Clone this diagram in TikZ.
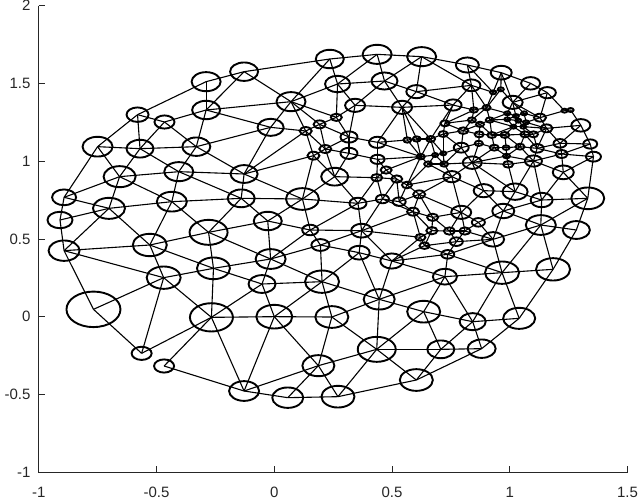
\documentclass[tikz,border=0pt]{standalone}
\usepackage{fontspec}
\setmainfont{Liberation Sans}
\usetikzlibrary{shapes.geometric}
\pgfdeclarelayer{bg}
\pgfsetlayers{bg,main}
\definecolor{axc}{RGB}{38,38,38}
\newcommand\mk[4]{\node[vx=#4] (#1) at (#2,#3) {};}
\tikzset{
 vx/.style={ellipse,draw=black,line width=1.9pt,inner sep=0pt,outer sep=0pt,minimum width={#1pt},minimum height={#1pt/1.52}},
 ed/.style={line width=1.1pt,black},
 ax/.style={line width=0.7pt,axc},
 tl/.style={font=\fontsize{15}{15}\selectfont,text=axc,inner sep=0pt}
}
\begin{document}
\begin{tikzpicture}[x=0.408163pt,y=-0.333333pt]
\useasboundingbox (0,0) rectangle (1568,1506);
% boundary
\mk{a1}{229}{928}{54}\mk{a2}{157}{752}{31}\mk{a3}{147}{660}{25}\mk{a4}{157}{592}{24}
\mk{a5}{239}{440}{30}\mk{a6}{337}{344}{22}\mk{a7}{505}{245}{29}\mk{a8}{598}{215}{28}
\mk{a9}{808}{177}{28}\mk{a10}{924}{163}{29}\mk{a11}{1033}{170}{29}\mk{a12}{1145}{195}{23}
\mk{a13}{1228}{218}{21}\mk{a14}{1300}{250}{19}\mk{a15}{1341}{278}{17}\mk{a16}{1383}{332}{6}
\mk{a17}{1398}{330}{6}\mk{a18}{1423}{376}{19}\mk{a19}{1446}{432}{14}\mk{a20}{1454}{470}{15}
\mk{a21}{1440}{595}{33}\mk{a22}{1412}{690}{27}\mk{a23}{1355}{808}{34}\mk{a24}{1272}{955}{32}
\mk{a25}{1180}{1046}{28}\mk{a26}{1020}{1140}{33}\mk{a27}{828}{1190}{33}\mk{a28}{705}{1193}{31}
\mk{a29}{598}{1173}{30}\mk{a30}{402}{1098}{20}\mk{a31}{347}{1060}{20}
% interior large
\mk{b1}{293}{530}{32}\mk{b2}{343}{446}{27}\mk{b3}{481}{440}{28}\mk{b4}{403}{366}{20}
\mk{b5}{505}{330}{28}\mk{b6}{663}{382}{26}\mk{b7}{713}{305}{29}\mk{b8}{827}{252}{25}
\mk{b9}{942}{243}{26}\mk{b10}{438}{515}{29}\mk{b11}{598}{522}{27}\mk{b12}{820}{530}{27}
\mk{b13}{267}{625}{32}\mk{b14}{421}{605}{30}\mk{b15}{591}{595}{27}\mk{b16}{741}{597}{33}
\mk{b17}{656}{663}{28}\mk{b18}{511}{697}{38}\mk{b19}{367}{735}{34}\mk{b20}{401}{833}{34}
\mk{b21}{523}{805}{33}\mk{b22}{663}{777}{30}\mk{b23}{642}{852}{27}\mk{b24}{789}{845}{34}
\mk{b25}{785}{735}{18}\mk{b26}{760}{690}{16}\mk{b27}{886}{692}{21}\mk{b28}{877}{610}{17}
\mk{b29}{880}{758}{21}\mk{b30}{960}{783}{23}\mk{b31}{929}{898}{31}\mk{b32}{1038}{935}{33}
\mk{b33}{1158}{965}{26}\mk{b34}{1080}{1048}{27}\mk{b35}{923}{1048}{38}\mk{b36}{813}{951}{33}
\mk{b37}{672}{950}{36}\mk{b38}{518}{952}{43}\mk{b39}{780}{1097}{32}\mk{b40}{1090}{830}{24}
\mk{b41}{1230}{818}{34}\mk{b42}{1097}{763}{13}\mk{b43}{1208}{718}{22}\mk{b44}{1325}{675}{30}
\mk{b45}{1327}{600}{22}\mk{b46}{1262}{575}{25}\mk{b47}{1233}{633}{22}\mk{b48}{1185}{572}{20}
\mk{b49}{1130}{637}{20}\mk{b50}{1172}{667}{13}\mk{b51}{1380}{517}{21}\mk{b52}{1107}{530}{17}
\mk{b53}{1157}{488}{19}\mk{b54}{1130}{443}{15}\mk{b55}{855}{411}{17}\mk{b56}{925}{427}{17}
\mk{b57}{870}{316}{20}\mk{b58}{985}{322}{20}\mk{b59}{1020}{275}{20}\mk{b60}{1110}{315}{17}
\mk{b61}{1155}{256}{18}\mk{b62}{1256}{307}{20}\mk{b63}{855}{460}{17}\mk{b64}{925}{478}{14}
% small
\mk{c1}{824}{352}{11}\mk{c2}{783}{373}{12}\mk{c3}{749}{393}{12}\mk{c4}{797}{447}{12}
\mk{c5}{768}{467}{12}\mk{c6}{946}{510}{11}\mk{c7}{923}{533}{11}\mk{c8}{972}{537}{11}
\mk{c9}{997}{555}{10}\mk{c10}{1027}{583}{12}\mk{c11}{937}{597}{13}\mk{c12}{978}{605}{13}
\mk{c13}{1012}{635}{12}\mk{c14}{1060}{652}{11}\mk{c15}{1058}{692}{11}\mk{c16}{1101}{693}{11}
\mk{c17}{1139}{693}{11}\mk{c18}{1030}{712}{10}\mk{c19}{1040}{737}{10}\mk{c20}{1118}{725}{13}
\mk{c21}{998}{420}{8}\mk{c22}{1021}{417}{8}\mk{c23}{1055}{417}{9}\mk{c24}{1031}{470}{8}
\mk{c25}{1066}{465}{6}\mk{c26}{1086}{460}{6}\mk{c28}{1049}{492}{8}\mk{c29}{1088}{492}{8}
\mk{c30}{1090}{370}{9}\mk{c31}{1086}{402}{9}\mk{c32}{1135}{392}{10}\mk{c33}{1161}{330}{8}
\mk{c34}{1192}{323}{8}\mk{c35}{1208}{277}{6}\mk{c36}{1227}{268}{6}\mk{c37}{1156}{360}{8}
\mk{c38}{1176}{373}{8}\mk{c39}{1200}{360}{8}\mk{c40}{1174}{403}{9}\mk{c41}{1205}{405}{9}
\mk{c42}{1237}{405}{9}\mk{c43}{1173}{430}{8}\mk{c44}{1211}{443}{9}\mk{c45}{1240}{443}{7}
\mk{c46}{1243}{340}{6}\mk{c47}{1264}{348}{6}\mk{c48}{1284}{340}{6}\mk{c49}{1243}{358}{6}
\mk{c50}{1270}{362}{6}\mk{c51}{1289}{367}{6}\mk{c52}{1323}{353}{12}\mk{c53}{1258}{380}{6}
\mk{c54}{1282}{380}{6}\mk{c55}{1339}{385}{12}\mk{c56}{1286}{403}{9}\mk{c57}{1307}{403}{9}
\mk{c58}{1372}{430}{13}\mk{c59}{1274}{440}{9}\mk{c60}{1316}{445}{13}\mk{c61}{1376}{462}{12}
\mk{c62}{1241}{468}{7}\mk{c63}{1307}{483}{17}\mk{c64}{1245}{493}{10}
\begin{pgfonlayer}{bg}
\foreach \u/\v in {a1/a2,a2/a3,a3/a4,a4/a5,a5/a6,a6/a7,a7/a8,a8/a9,a9/a10,a10/a11,a11/a12,a12/a13,a13/a14,a14/a15,a15/a16,a16/a17,a17/a18,a18/a19,a19/a20,a20/a21,a21/a22,a22/a23,a23/a24,a24/a25,a25/a26,a26/a27,a27/a28,a28/a29,a29/a30,a31/a1,
a1/b20,a31/b20,a31/b38,a30/b38,a29/b38,a29/b37,a29/b39,a28/b39,a27/b39,a27/b35,a26/b35,a26/b34,a25/b34,a25/b33,a24/b33,a24/b41,a23/b41,a23/b44,a22/b44,a21/b45,a21/b51,a21/b44,a20/b51,a20/c61,a19/c61,a19/c58,a18/c58,a18/c55,a16/c52,a15/c52,a15/b62,a14/b62,a13/b62,a13/c36,a13/c35,a12/c35,a12/b61,a11/b61,a11/b59,a11/b9,a10/b9,a10/b8,a9/b8,a9/b7,a8/b7,a8/b5,a7/b5,a6/b4,a6/b2,a5/b2,a5/b1,a4/b1,a4/b13,a3/b13,a2/b13,a2/b19,a2/b20,
b1/b2,b1/b10,b1/b13,b1/b14,b2/b4,b2/b3,b2/b10,b3/b4,b3/b5,b3/b6,b3/b10,b3/b11,b4/b5,b5/b6,b5/b7,b6/b7,b6/b11,b6/c3,b7/b8,b7/c1,b7/c2,b7/c3,b8/b9,b8/b57,b8/c1,b9/b57,b9/b58,b9/b59,b57/b58,b57/c1,b57/b55,b58/b59,b58/b60,b58/b56,b58/c21,b58/c22,b58/c23,b55/c1,b55/c2,b55/c4,b55/b63,b55/b56,b56/b64,b56/c21,b56/c24,c1/c2,c2/c3,c2/c4,c3/c4,c3/c5,c4/c5,c4/b63,c4/b12,c3/b11,c5/b11,c5/b16,c5/b12,b63/b64,b63/b12,b64/c24,b64/c6,b64/c7,b12/c7,b12/b16,b12/b28,
b10/b11,b10/b14,b10/b15,b11/b15,b11/b16,b13/b14,b13/b19,b14/b15,b14/b18,b14/b19,b15/b16,b15/b17,b15/b18,b16/b17,b16/b26,b16/b28,b17/b18,b17/b26,b17/b22,b18/b19,b18/b21,b18/b22,b19/b20,b19/b21,b20/b21,b20/b38,b21/b22,b21/b23,b21/b38,b22/b23,b22/b24,b22/b25,b22/b26,b23/b24,b23/b37,b23/b38,b24/b25,b24/b29,b24/b31,b24/b36,b24/b37,b25/b26,b25/b27,b25/b29,b26/b27,b26/b28,b27/b28,b27/c11,b27/c13,b27/c18,b27/b29,b27/b30,b28/c7,b28/c11,b29/b30,b29/b31,b30/b31,b30/c18,b30/c19,b30/b42,b30/b40,b31/b40,b31/b32,b31/b35,b31/b36,b32/b33,b32/b34,b32/b35,b32/b40,b33/b34,b33/b40,b33/b41,b34/b35,b35/b36,b35/b39,b36/b37,b36/b39,b37/b38,b37/b39,b40/b41,b40/b42,b41/b42,b41/b43,b41/b44,b42/b43,b42/c19,b42/c20,b43/b44,b43/b47,b43/b50,b43/c20,b43/c17,b44/b45,b44/b47,
b45/b46,b45/b47,b45/b51,b45/c63,b46/b47,b46/b48,b46/b53,b46/c64,b46/c63,b47/b48,b47/b50,b48/b49,b48/b52,b48/b53,b49/b50,b49/b52,b49/c10,b49/c14,b49/c16,b49/c17,b50/c17,b51/c61,b51/c63,b52/b53,b52/c9,b52/c10,b52/c28,b52/c29,
c6/c7,c6/c8,c6/c24,c7/c8,c7/c11,c8/c9,c8/c11,c8/c12,c9/c10,c9/c12,c9/c28,c9/c24,c10/c12,c10/c13,c10/c14,c11/c12,c11/c13,c12/c13,c13/c14,c13/c15,c13/c18,c14/c15,c14/c16,c15/c16,c15/c18,c15/c19,c16/c17,c16/c20,c17/c20,c18/c19,c19/c20,
b59/b60,b59/b61,b60/b61,b61/c35,b61/c33,b61/c34,c35/c34,c35/c36,c34/c36,c34/c46,c46/b62,c36/b62,b60/c33,b60/c30,b60/c23,c33/c34,c33/c37,c33/c30,c37/c30,c34/c39,c34/c37,c37/c38,c38/c39,c39/c46,c39/c49,c46/c49,c46/c47,c47/c48,c47/b62,c48/b62,b62/c52,c47/c49,c47/c50,c49/c50,c48/c51,c50/c51,c48/c52,c51/c52,c52/c55,c51/c55,c49/c53,c50/c53,c50/c54,c51/c54,c53/c54,c54/c55,c54/c57,c55/c57,c55/c58,c57/c60,c60/c58,c55/c60,c53/c42,c53/c56,c54/c56,c56/c57,c42/c56,c41/c42,c40/c41,c38/c40,c38/c41,c39/c41,c39/c53,c41/c53,c30/c31,c30/c32,c37/c32,c32/c38,c32/c40,c31/c32,c31/c23,c31/b54,c32/b54,c40/c43,b54/c43,c41/c44,c43/c44,c44/c45,c42/c45,c42/c59,c45/c59,c56/c59,c56/c60,c59/c60,c60/c61,c58/c61,c60/c63,c59/c63,c59/c62,c45/c62,c44/c62,c62/c64,c62/c63,c64/c63,c44/b53,c43/b53,b54/b53,b53/c64,b53/c62,c61/c63,b54/c26,b54/c29,b53/c29,c31/c26,c23/c26,c21/c22,c21/c24,c22/c24,c22/c23,c23/c24,c23/c25,c24/c25,c25/c26,c25/c28,c24/c28,c26/c29,c25/c29,c28/c29}
  \draw[ed] (\u.center) -- (\v.center);
\end{pgfonlayer}
% axes
\coordinate (org) at (95,1416.7);
\coordinate (xend) at (1537.5,1416.7);
\coordinate (yend) at (95,16.6);
\draw[ax] (yend) -- (org) -- (xend);
\foreach \X/\L [count=\i] in {95/-1,383.5/-0.5,672/0,960.5/0.5,1249/1,1537.5/1.5}{
  \draw[ax] (\X,1416.7) -- (\X,1398);
  \node[tl] (xl\i) at (\X,1478) {\L};
}
\foreach \Y/\L [count=\i] in {16.6/2,250/1.5,483.3/1,716.7/0.5,950/0,1183.3/-0.5,1416.7/-1}{
  \draw[ax] (95,\Y) -- (109.7,\Y);
  \node[tl,anchor=east] (yl\i) at (75,\Y) {\L};
}
\end{tikzpicture}
\end{document}
